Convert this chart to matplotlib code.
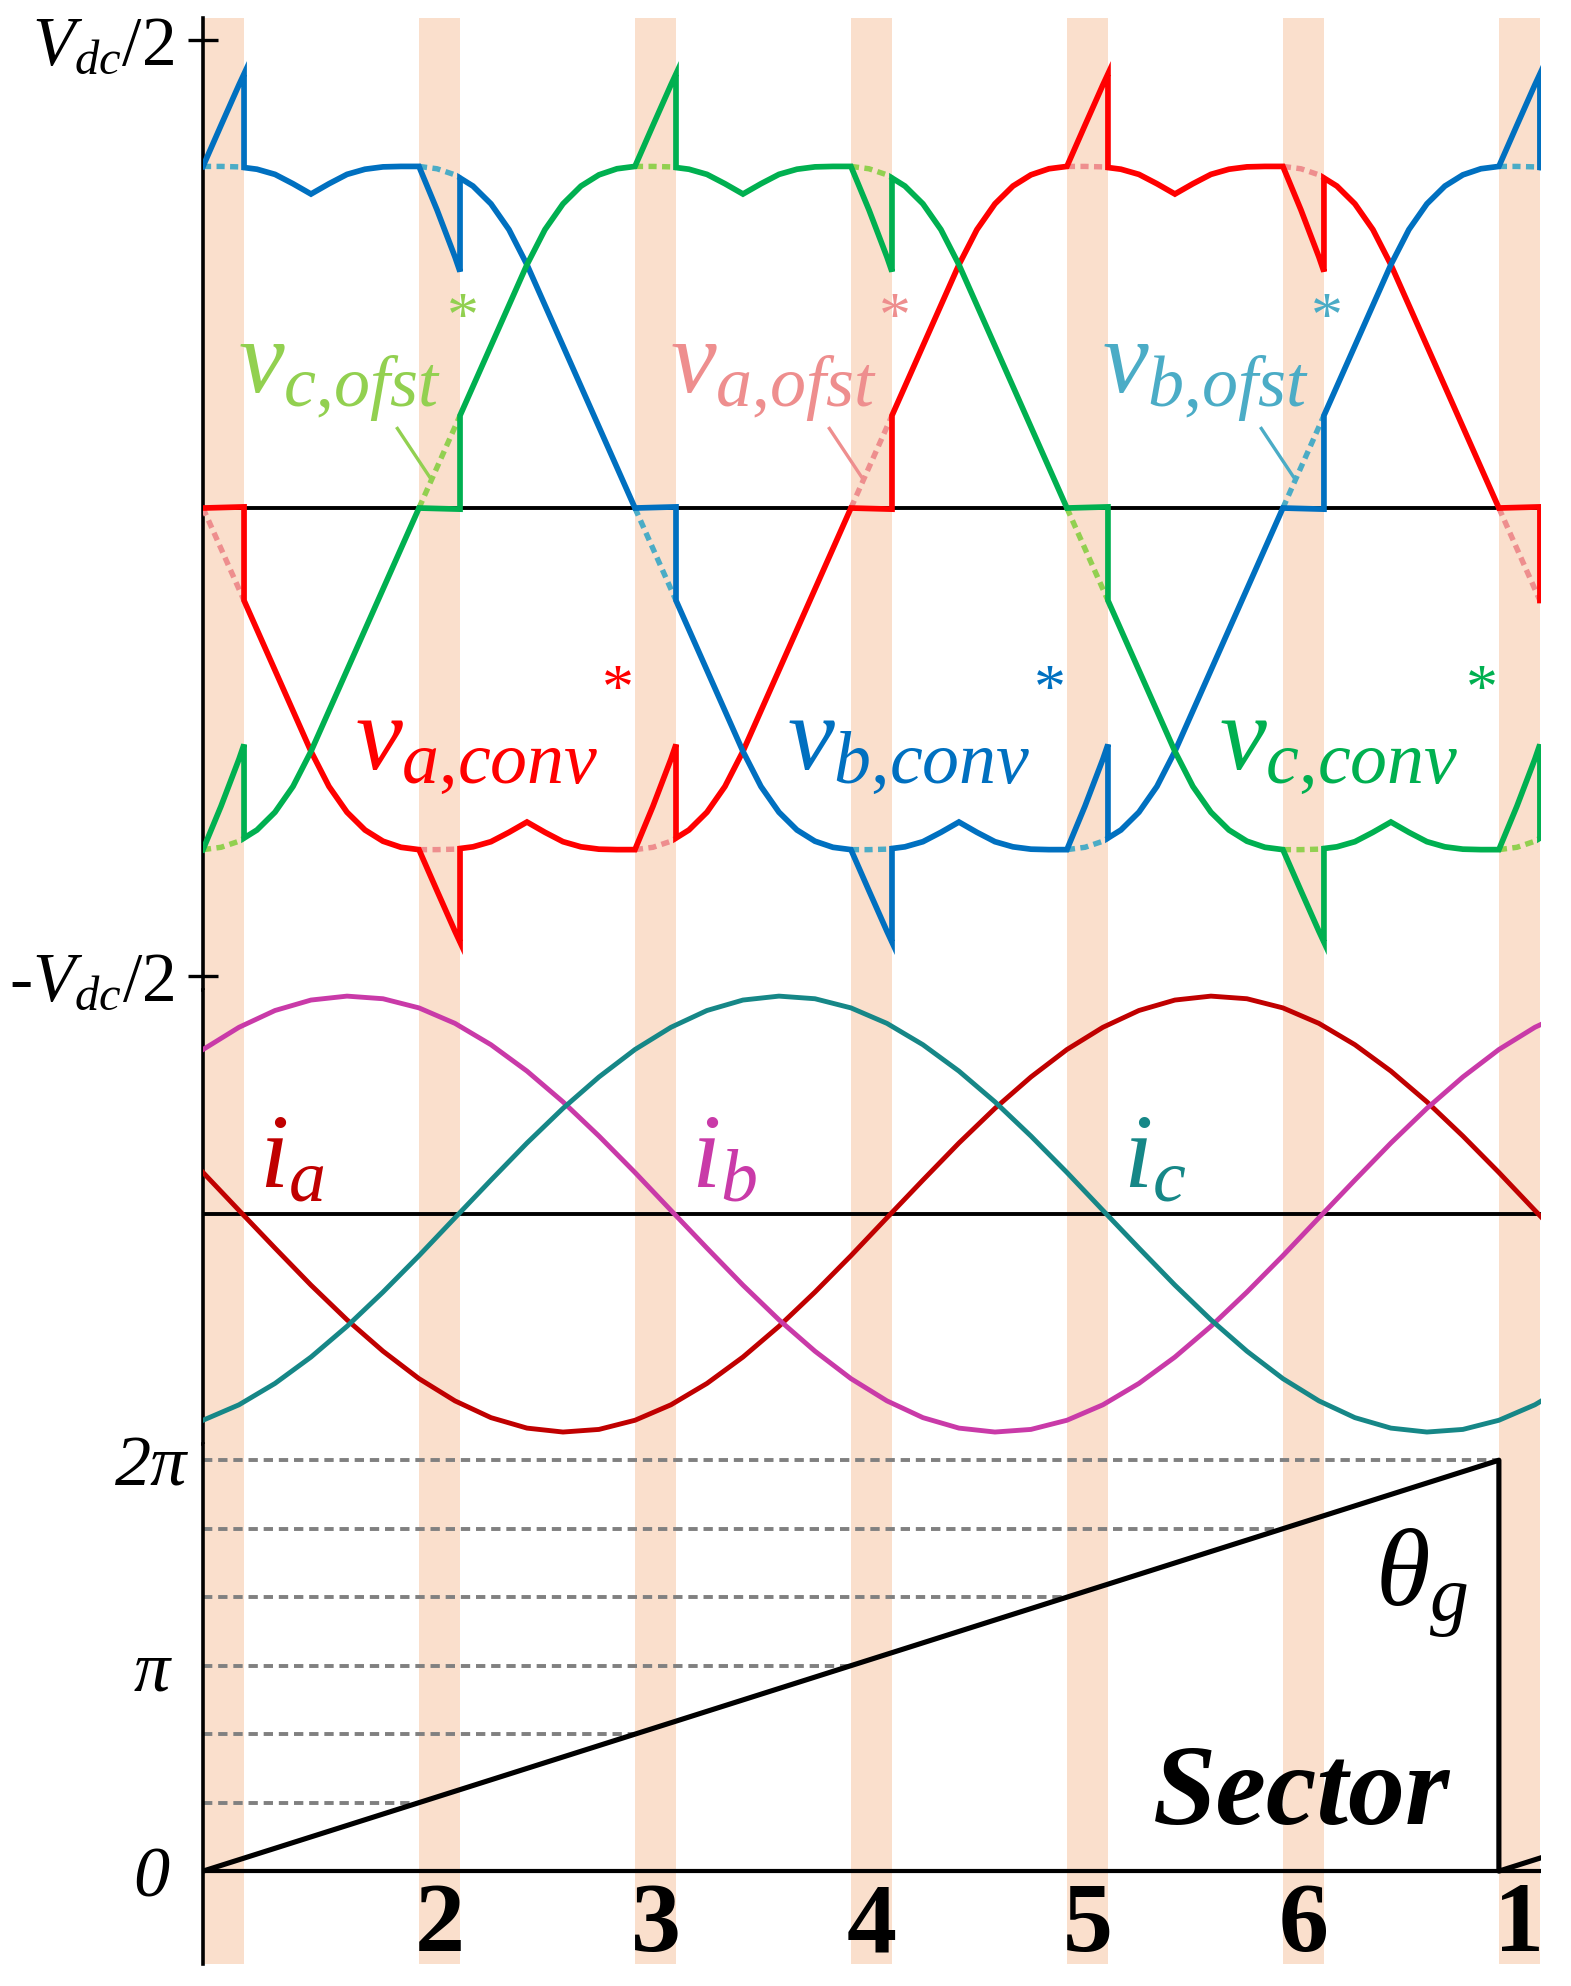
import numpy as np
import matplotlib
matplotlib.use("Agg")
import matplotlib.pyplot as plt

plt.rcParams["font.family"] = ["Liberation Serif", "DejaVu Serif"]
plt.rcParams["mathtext.fontset"] = "custom"
plt.rcParams["mathtext.rm"] = "Liberation Serif"
plt.rcParams["mathtext.it"] = "Liberation Serif:italic"
plt.rcParams["mathtext.bf"] = "Liberation Serif:bold"

# sector transitions (theta_g in degrees) and the shaded bands
band_start = [0, 60, 120, 180, 240, 300, 360]
band_width = 11.4
band_offset = [0.2, -0.2, 0.2, -0.2, 0.2, -0.2, 0.2]  # injected offset at band end (x Vdc/2)
sector_labels = ["2", "3", "4", "5", "6", "1"]

# phase a reference without offset, first half period (x Vdc/2); second half mirrored
ofst_theta = [0, 27, 30, 35, 40, 45, 50, 55, 60, 65, 70, 75, 80, 85, 90,
              95, 100, 105, 110, 115, 120, 125, 130, 135, 140, 145, 150, 153, 180]
ofst_val = [0, -0.468, -0.52, -0.595, -0.650, -0.688, -0.712, -0.725, -0.730, -0.730,
            -0.729, -0.724, -0.713, -0.693, -0.671, -0.693, -0.713, -0.724,
            -0.729, -0.730, -0.730, -0.725, -0.712, -0.688, -0.650, -0.595, -0.52,
            -0.468, 0]
phase_shift = [0, 120, 240]  # a, b, c

# phase a current (normalised), b and c lag by 120 / 240 deg
ia_theta = list(range(0, 360, 10))
ia_val = [0.191, 0.017, -0.156, -0.326, -0.485, -0.629, -0.755, -0.857, -0.934,
          -0.982, -1.000, -0.988, -0.946, -0.875, -0.777, -0.656, -0.515, -0.358,
          -0.191, -0.017, 0.156, 0.326, 0.485, 0.629, 0.755, 0.857, 0.934,
          0.982, 1.000, 0.988, 0.946, 0.875, 0.777, 0.656, 0.515, 0.358]

# grid angle theta_g (rad)
ramp_theta = [0, 360, 360, 371.7]
ramp_val = [0, 2 * np.pi, 0, 0.204]

conv_colors = ["#ff0000", "#0070c0", "#00b050"]
ofst_colors = ["#ee8e8e", "#4bacc6", "#92d050"]
cur_colors = ["#c00000", "#c93aa8", "#168787"]
band_color = "#fadfcc"
TH_MAX = 371.7

# full period of the phase a reference
per_theta = np.array(ofst_theta + [t + 180 for t in ofst_theta[1:]])
per_val = np.array(ofst_val + [-v for v in ofst_val[1:]])

off_x, off_y = [-5.0], [0.0]
for t0, d in zip(band_start, band_offset):
    off_x += [t0, t0 + band_width, t0 + band_width + 1e-3]
    off_y += [0.0, d, 0.0]
off_x.append(400.0)
off_y.append(0.0)


def ofst(th, shift):
    return np.interp(np.asarray(th) - shift, per_theta[:-1], per_val[:-1], period=360)


fig = plt.figure(figsize=(15.71, 19.86), dpi=100)
left, width = 203 / 1571, (1541 - 203) / 1571
ax_v = fig.add_axes([left, 0.5015, width, 0.4894])
ax_i = fig.add_axes([left, 0.2729, width, 0.2286])
ax_t = fig.add_axes([left, 0.01108, width, 0.2618])

for ax in (ax_v, ax_i, ax_t):
    ax.set_xlim(0, TH_MAX)
    for s in ("top", "right", "bottom"):
        ax.spines[s].set_visible(False)
    ax.spines["left"].set_linewidth(2.6)
    ax.set_xticks([])
    for t0 in band_start:
        ax.axvspan(t0, t0 + band_width, color=band_color, lw=0, zorder=0)

# ---- converter voltages ----
ax_v.set_ylim(-1.030, 1.047)
ax_v.axhline(0, color="black", lw=2.8, zorder=1)
ax_v.set_yticks([1, -1])
ax_v.set_yticklabels([r"$V_{dc}/2$", r"-$V_{dc}/2$"], fontsize=50)
ax_v.tick_params(axis="y", direction="inout", length=22, width=2.4, pad=10)

for k, shift in enumerate(phase_shift):
    base = np.concatenate([per_theta + shift + 360 * n for n in (-1, 0, 1)])
    th = np.unique(np.concatenate([base, off_x]))
    th = th[(th >= -1) & (th <= 380)]
    v = ofst(th, shift) + np.interp(th, off_x, off_y)
    ax_v.plot(th, v, color=conv_colors[k], lw=4.1, zorder=4, solid_joinstyle="miter")
    for t0 in band_start:
        seg = np.unique(np.concatenate([[t0, t0 + band_width],
                                        base[(base > t0) & (base < t0 + band_width)]]))
        ax_v.plot(seg, ofst(seg, shift), color=ofst_colors[k], lw=3.9,
                  dashes=(1.5, 1.0), zorder=3)

# offset-free labels (c, a, b) with leader lines and stars
ofst_names = [r"$v_{c{,}ofst}$", r"$v_{a{,}ofst}$", r"$v_{b{,}ofst}$"]
ofst_lab_colors = [ofst_colors[2], ofst_colors[0], ofst_colors[1]]
for k, shift in enumerate(phase_shift):
    c = ofst_lab_colors[k]
    ax_v.text(9.7 + shift, 0.246, ofst_names[k], color=c, fontsize=74,
              ha="left", va="baseline", zorder=5)
    ax_v.plot([54 + shift, 63.5 + shift], [0.17, 0.06], color=c, lw=2.4, zorder=5)
    ax_v.text(72.2 + shift, 0.40, "*", color=c, fontsize=46, ha="center", va="center")

conv_names = [r"$v_{a{,}conv}$", r"$v_{b{,}conv}$", r"$v_{c{,}conv}$"]
for k, shift in enumerate(phase_shift):
    ax_v.text(42.2 + shift, -0.556, conv_names[k], color=conv_colors[k], fontsize=76,
              ha="left", va="baseline", zorder=5)
    ax_v.text(115.3 + shift, -0.395, "*", color=conv_colors[k], fontsize=46,
              ha="center", va="center")

# ---- currents ----
ax_i.set_ylim(-1.055, 1.028)
ax_i.set_yticks([])
ax_i.axhline(0, color="black", lw=2.8, zorder=1)
cur_names = [r"$i_a$", r"$i_b$", r"$i_c$"]
th_i = np.arange(0, 381, 10)
for k, shift in enumerate(phase_shift):
    i_val = np.interp(th_i - shift, ia_theta, ia_val, period=360)
    ax_i.plot(th_i, i_val, color=cur_colors[k], lw=3.5, zorder=3)
    ax_i.text(15.5 + shift, 0.12, cur_names[k], color=cur_colors[k], fontsize=76,
              ha="left", va="baseline")

# ---- grid angle / sector ----
ax_t.set_ylim(-1.42, 6.53)
ax_t.axhline(0, color="black", lw=3.0, zorder=2)
for k in range(1, 7):
    ax_t.plot([0, band_start[k]], [k * np.pi / 3] * 2, color="#808080", lw=2.8,
              dashes=(2.4, 1.5), zorder=1)
ax_t.plot(ramp_theta, ramp_val, color="black", lw=3.7, zorder=3)
ax_t.set_yticks([0, np.pi, 2 * np.pi])
ax_t.set_yticklabels(["0", "π", "2π"], fontsize=52, fontstyle="italic", ha="center")
ax_t.tick_params(axis="y", length=0, pad=37)
for k, lab in enumerate(sector_labels):
    t0 = band_start[k + 1]
    ax_t.text(t0 + band_width / 2, -0.86, lab, fontsize=72, fontweight="bold",
              ha="center", va="center")
ax_t.text(325.6, 4.04, r"$\theta_g$", fontsize=80, ha="left", va="baseline")
ax_t.text(263.9, 0.72, "Sector", fontsize=82, fontweight="bold", fontstyle="italic",
          ha="left", va="baseline")

fig.savefig("out.png", dpi=100)
